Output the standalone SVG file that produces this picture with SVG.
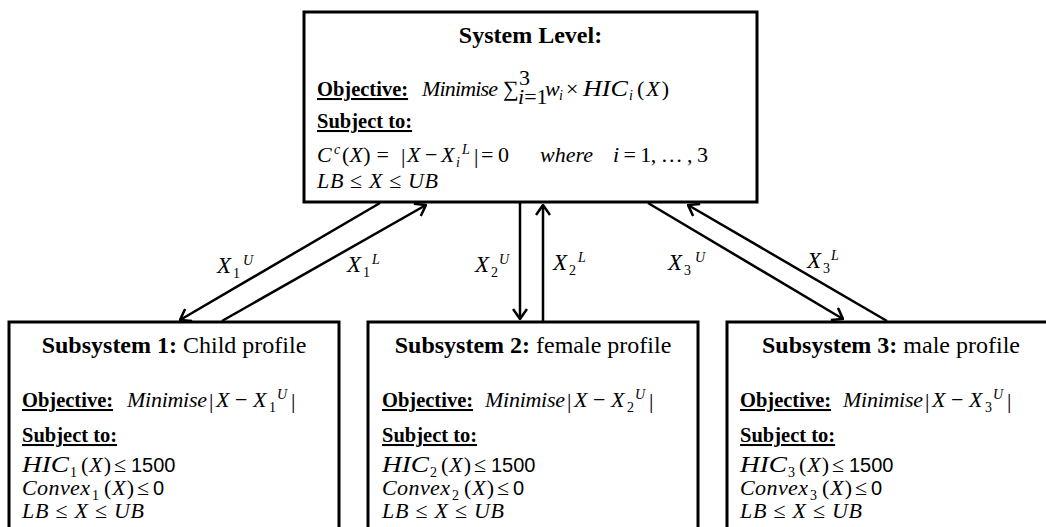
<svg xmlns="http://www.w3.org/2000/svg" width="1046" height="527" viewBox="0 0 1046 527">
<style>
.box{fill:#fff;stroke:#000;stroke-width:3}
.t{font-family:"Liberation Serif","Times New Roman",serif;fill:#000}
.b{font-weight:bold;font-size:20.5px}
.u{text-decoration:underline}
.m{font-family:"Liberation Serif","Times New Roman",serif;font-style:italic;font-size:22px;fill:#000}
.n{font-family:"Liberation Serif","Times New Roman",serif;font-size:22px;fill:#000}
.s{font-size:14px}
.h{font-size:23px}
.c{font-family:"Liberation Sans",Arial,sans-serif;font-size:20px;fill:#000}
.arr{stroke:#000;stroke-width:2.5;fill:none;marker-end:url(#ah)}
</style>
<defs>
<marker id="ah" viewBox="0 0 12 16" refX="11" refY="8" markerWidth="12" markerHeight="16" markerUnits="userSpaceOnUse" orient="auto">
<path d="M1,1 L11,8 L1,15" fill="none" stroke="#000" stroke-width="2.5"/>
</marker>
</defs>

<g id="system">
<rect class="box" x="304" y="12" width="453" height="190"/>
<text class="t" x="530.5" y="43" text-anchor="middle" font-size="24" font-weight="bold">System Level:</text>
<text class="t b u" x="317" y="96">Objective:</text>
<text class="m" x="422" y="96" textLength="76">Minimise</text>
<text class="n" x="503" y="96" font-size="20">∑</text>
<text class="n" x="519" y="85" font-size="11">3</text>
<text class="n" x="518" y="104" font-size="11"><tspan font-style="italic">i</tspan>=1</text>
<text class="m" x="545" y="96">w</text>
<text class="m s" x="559" y="100">i</text>
<text class="n" x="566" y="96">×</text>
<text class="m h" x="583" y="96" textLength="45" lengthAdjust="spacingAndGlyphs">HIC</text>
<text class="m s" x="629" y="100">i</text>
<text class="n" x="637" y="96" textLength="32">(<tspan font-style="italic">X</tspan>)</text>
<text class="t b u" x="317" y="128">Subject to:</text>
<text class="m" x="317" y="162">C</text>
<text class="m s" x="334" y="154">c</text>
<text class="n" x="342" y="162" textLength="47">(<tspan font-style="italic">X</tspan>) =</text>
<text class="n" x="401" y="163" font-size="25">|</text>
<text class="m" x="407" y="162">X</text>
<text class="n" x="425" y="162">−</text>
<text class="m" x="441" y="162">X</text>
<text class="m s" x="456" y="167">i</text>
<text class="m s" x="462" y="154">L</text>
<text class="n" x="474" y="163" font-size="25">|</text>
<text class="n" x="481" y="162" textLength="28">= 0</text>
<text class="m" x="540" y="162">where</text>
<text class="n" x="613" y="162" textLength="95"><tspan font-style="italic">i</tspan> = 1, … , 3</text>
<text class="n" x="317" y="188" textLength="121"><tspan font-style="italic">LB</tspan> ≤ <tspan font-style="italic">X</tspan> ≤ <tspan font-style="italic">UB</tspan></text>
</g>

<g id="sub1" transform="translate(9,0)">
<rect class="box" x="0" y="322" width="330" height="230"/>
<text class="t" x="165" y="353" text-anchor="middle" font-size="24"><tspan font-weight="bold">Subsystem 1:</tspan> Child profile</text>
<text class="t b u" x="13" y="407">Objective:</text>
<text class="m" x="118" y="407" textLength="80">Minimise</text>
<text class="n" x="200" y="408" font-size="25">|</text>
<text class="m" x="207" y="407">X</text>
<text class="n" x="226" y="407">−</text>
<text class="m" x="244" y="407">X</text>
<text class="n s" x="260" y="412">1</text>
<text class="m s" x="268" y="399">U</text>
<text class="n" x="282" y="408" font-size="25">|</text>
<text class="t b u" x="13" y="442">Subject to:</text>
<text class="m h" x="13" y="472" textLength="47" lengthAdjust="spacingAndGlyphs">HIC</text>
<text class="n s" x="61" y="477">1</text>
<text class="n" x="72" y="472" textLength="30">(<tspan font-style="italic">X</tspan>)</text>
<text class="n" x="105" y="472">≤</text>
<text class="c" x="122" y="472">1500</text>
<text class="m" x="13" y="495" textLength="68">Convex</text>
<text class="n s" x="83" y="500">1</text>
<text class="n" x="95" y="495" textLength="30">(<tspan font-style="italic">X</tspan>)</text>
<text class="n" x="128" y="495">≤</text>
<text class="c" x="144" y="495">0</text>
<text class="n" x="13" y="518" textLength="122"><tspan font-style="italic">LB</tspan> ≤ <tspan font-style="italic">X</tspan> ≤ <tspan font-style="italic">UB</tspan></text>
</g>

<g id="sub2" transform="translate(368,0)">
<rect class="box" x="0" y="322" width="330" height="230"/>
<text class="t" x="165" y="353" text-anchor="middle" font-size="24"><tspan font-weight="bold">Subsystem 2:</tspan> female profile</text>
<text class="t b u" x="14" y="407">Objective:</text>
<text class="m" x="117" y="407" textLength="80">Minimise</text>
<text class="n" x="199" y="408" font-size="25">|</text>
<text class="m" x="206" y="407">X</text>
<text class="n" x="225" y="407">−</text>
<text class="m" x="243" y="407">X</text>
<text class="n s" x="259" y="412">2</text>
<text class="m s" x="267" y="399">U</text>
<text class="n" x="281" y="408" font-size="25">|</text>
<text class="t b u" x="14" y="442">Subject to:</text>
<text class="m h" x="14" y="472" textLength="47" lengthAdjust="spacingAndGlyphs">HIC</text>
<text class="n s" x="62" y="477">2</text>
<text class="n" x="73" y="472" textLength="30">(<tspan font-style="italic">X</tspan>)</text>
<text class="n" x="106" y="472">≤</text>
<text class="c" x="123" y="472">1500</text>
<text class="m" x="14" y="495" textLength="68">Convex</text>
<text class="n s" x="84" y="500">2</text>
<text class="n" x="96" y="495" textLength="30">(<tspan font-style="italic">X</tspan>)</text>
<text class="n" x="129" y="495">≤</text>
<text class="c" x="145" y="495">0</text>
<text class="n" x="14" y="518" textLength="122"><tspan font-style="italic">LB</tspan> ≤ <tspan font-style="italic">X</tspan> ≤ <tspan font-style="italic">UB</tspan></text>
</g>

<g id="sub3" transform="translate(727,0)">
<rect class="box" x="0" y="322" width="330" height="230"/>
<text class="t" x="164" y="353" text-anchor="middle" font-size="24"><tspan font-weight="bold">Subsystem 3:</tspan> male profile</text>
<text class="t b u" x="13" y="407">Objective:</text>
<text class="m" x="116" y="407" textLength="80">Minimise</text>
<text class="n" x="198" y="408" font-size="25">|</text>
<text class="m" x="205" y="407">X</text>
<text class="n" x="224" y="407">−</text>
<text class="m" x="242" y="407">X</text>
<text class="n s" x="258" y="412">3</text>
<text class="m s" x="266" y="399">U</text>
<text class="n" x="280" y="408" font-size="25">|</text>
<text class="t b u" x="13" y="442">Subject to:</text>
<text class="m h" x="13" y="472" textLength="47" lengthAdjust="spacingAndGlyphs">HIC</text>
<text class="n s" x="61" y="477">3</text>
<text class="n" x="72" y="472" textLength="30">(<tspan font-style="italic">X</tspan>)</text>
<text class="n" x="105" y="472">≤</text>
<text class="c" x="122" y="472">1500</text>
<text class="m" x="13" y="495" textLength="68">Convex</text>
<text class="n s" x="83" y="500">3</text>
<text class="n" x="95" y="495" textLength="30">(<tspan font-style="italic">X</tspan>)</text>
<text class="n" x="128" y="495">≤</text>
<text class="c" x="144" y="495">0</text>
<text class="n" x="13" y="518" textLength="122"><tspan font-style="italic">LB</tspan> ≤ <tspan font-style="italic">X</tspan> ≤ <tspan font-style="italic">UB</tspan></text>
</g>

<g id="connectors">
<line class="arr" x1="380" y1="203" x2="180" y2="320"/>
<line class="arr" x1="222" y1="321" x2="426" y2="205"/>
<line class="arr" x1="520" y1="203" x2="520" y2="319"/>
<line class="arr" x1="543" y1="321" x2="543" y2="205"/>
<line class="arr" x1="648" y1="203" x2="843" y2="319"/>
<line class="arr" x1="887" y1="321" x2="688" y2="205"/>
</g>

<g id="labels">
<text class="m h" x="217" y="273">X</text><text class="n s" x="233" y="278">1</text><text class="m s" x="243" y="265">U</text>
<text class="m h" x="347" y="272">X</text><text class="n s" x="363" y="277">1</text><text class="m s" x="372" y="264">L</text>
<text class="m h" x="475" y="272">X</text><text class="n s" x="491" y="277">2</text><text class="m s" x="499" y="264">U</text>
<text class="m h" x="553" y="270">X</text><text class="n s" x="569" y="275">2</text><text class="m s" x="578" y="262">L</text>
<text class="m h" x="668" y="270">X</text><text class="n s" x="684" y="275">3</text><text class="m s" x="695" y="262">U</text>
<text class="m h" x="807" y="268">X</text><text class="n s" x="823" y="273">3</text><text class="m s" x="831" y="260">L</text>
</g>
</svg>
